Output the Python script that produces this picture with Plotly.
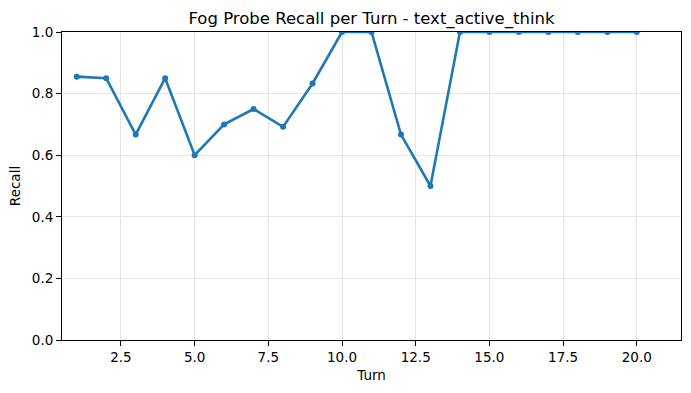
import plotly.graph_objects as go

turns = list(range(1, 21))
recall = [0.855, 0.85, 0.667, 0.85, 0.6, 0.7, 0.75, 0.692, 0.833, 1.0,
          1.0, 0.667, 0.5, 1.0, 1.0, 1.0, 1.0, 1.0, 1.0, 1.0]

title = "Fog Probe Recall per Turn - text_active_think"
x_label = "Turn"
y_label = "Recall"

fig = go.Figure()
fig.add_trace(go.Scatter(
    x=turns, y=recall, mode="lines+markers",
    line=dict(color="#1f77b4", width=2.6),
    marker=dict(color="#1f77b4", size=6),
    showlegend=False,
))

font = "DejaVu Sans"
axis_common = dict(
    showline=True, linecolor="black", linewidth=1, mirror=True,
    ticks="outside", ticklen=5, tickwidth=1, tickcolor="black",
    showgrid=True, gridcolor="#e6e6e6", gridwidth=0.8,
    zeroline=False,
    tickfont=dict(family=font, size=13.5, color="black"),
)

fig.update_layout(
    width=691, height=393,
    margin=dict(l=62, r=10, t=32, b=53),
    paper_bgcolor="white", plot_bgcolor="white",
    title=dict(text=title, x=0.5, xref="paper", xanchor="center",
               y=1 - 18 / 393, yref="container", yanchor="middle",
               font=dict(family=font, size=16.5, color="black")),
    xaxis=dict(range=[0.5, 21.5], tick0=0, dtick=2.5, tickformat=".1f",
               title=dict(text=x_label, standoff=6,
                          font=dict(family=font, size=13.5, color="black")),
               **axis_common),
    yaxis=dict(range=[0, 1], tick0=0, dtick=0.2, tickformat=".1f",
               title=dict(text=y_label, standoff=8,
                          font=dict(family=font, size=13.5, color="black")),
               **axis_common),
)

fig.write_html("out.html")
